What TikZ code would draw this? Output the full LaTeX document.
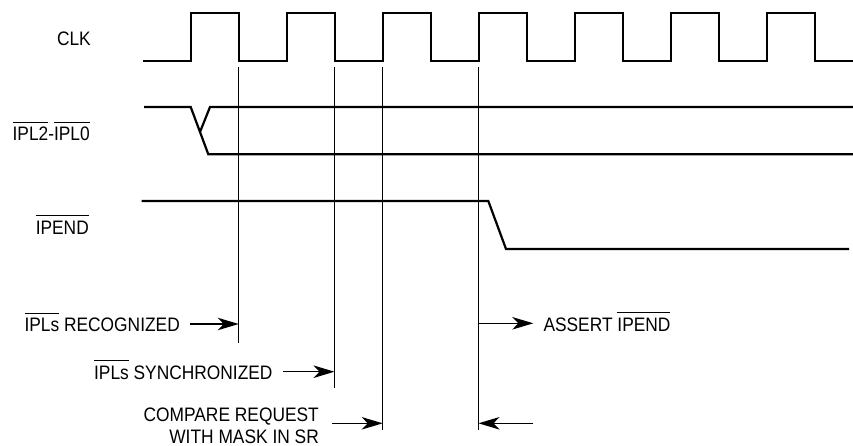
\documentclass[tikz,border=0pt]{standalone}
\usepackage{fontspec}
\setmainfont{Liberation Sans}[FakeStretch=0.89]
\usetikzlibrary{arrows.meta}
\newcommand\ob[1]{\vbox{\hrule height 1pt\kern 4.6pt\hbox{#1}}}
\begin{document}
\begin{tikzpicture}[x=1pt,y=-1pt,
  font=\fontsize{19.5}{22.3}\selectfont,
  sig/.style={line width=2.2pt,line join=miter},
  vline/.style={line width=1.2pt},
  arr/.style={line width=1.3pt,-{Stealth[length=21pt,width=12.5pt,inset=6pt]}},
  lbl/.style={inner sep=0pt,anchor=base east}]
\useasboundingbox (0,0) rectangle (853,446);
% signal names
\node[lbl] (clk) at (91,46) {CLK};
\node[lbl] (ipl) at (90,141) {\ob{IPL2}-\ob{IPL0}};
\node[lbl] (ipend) at (89,234.3) {\ob{IPEND}};
% CLK waveform
\draw[sig] (143,61) foreach \k in {0,...,6} {
  -- ({190.7+96*\k},61) -- ({190.7+96*\k},13) -- ({238.7+96*\k},13) -- ({238.7+96*\k},61) } -- (853,61);
% IPL waveform
\draw[sig] (144,107) -- (190.7,107) -- (208.3,154.3) -- (853,154.3);
\draw[sig] (200,132) -- (210,107) -- (853,107);
% IPEND waveform
\draw[sig] (141.7,201) -- (488.3,201) -- (506,249) -- (849,249);
% vertical reference lines
\coordinate (v1t) at (238.7,67);  \coordinate (v1b) at (238.7,342.7);
\coordinate (v2t) at (334.5,67);  \coordinate (v2b) at (334.5,388);
\coordinate (v3t) at (382.7,67);  \coordinate (v3b) at (382.7,430);
\coordinate (v4t) at (478.5,67);  \coordinate (v4b) at (478.5,430);
\draw[vline] (v1t) -- (v1b);
\draw[vline] (v2t) -- (v2b);
\draw[vline] (v3t) -- (v3b);
\draw[vline] (v4t) -- (v4b);
% event labels
\node[lbl] (rec) at (180,331.7) {\ob{IPLs} RECOGNIZED};
\node[lbl] (syn) at (272.7,379.3) {\ob{IPLs} SYNCHRONIZED};
\node[lbl] (cmp1) at (319,421.2) {COMPARE REQUEST};
\node[lbl] (cmp2) at (319,443.2) {WITH MASK IN SR};
\node[lbl,anchor=base west] (asrt) at (543.3,331) {ASSERT \ob{IPEND}};
% arrows
\coordinate (a1) at (190,324);
\coordinate (a2) at (283.3,371.7);
\coordinate (a3) at (332.3,423.3);
\coordinate (a4) at (533.3,323.3);
\coordinate (a5) at (533.3,423.3);
\draw[arr] (a1) -- (a1 -| v1t);
\draw[arr] (a2) -- (a2 -| v2t);
\draw[arr] (a3) -- (a3 -| v3t);
\draw[arr] (a4 -| v4t) -- (a4);
\draw[arr] (a5) -- (a5 -| v4t);
\end{tikzpicture}
\end{document}
